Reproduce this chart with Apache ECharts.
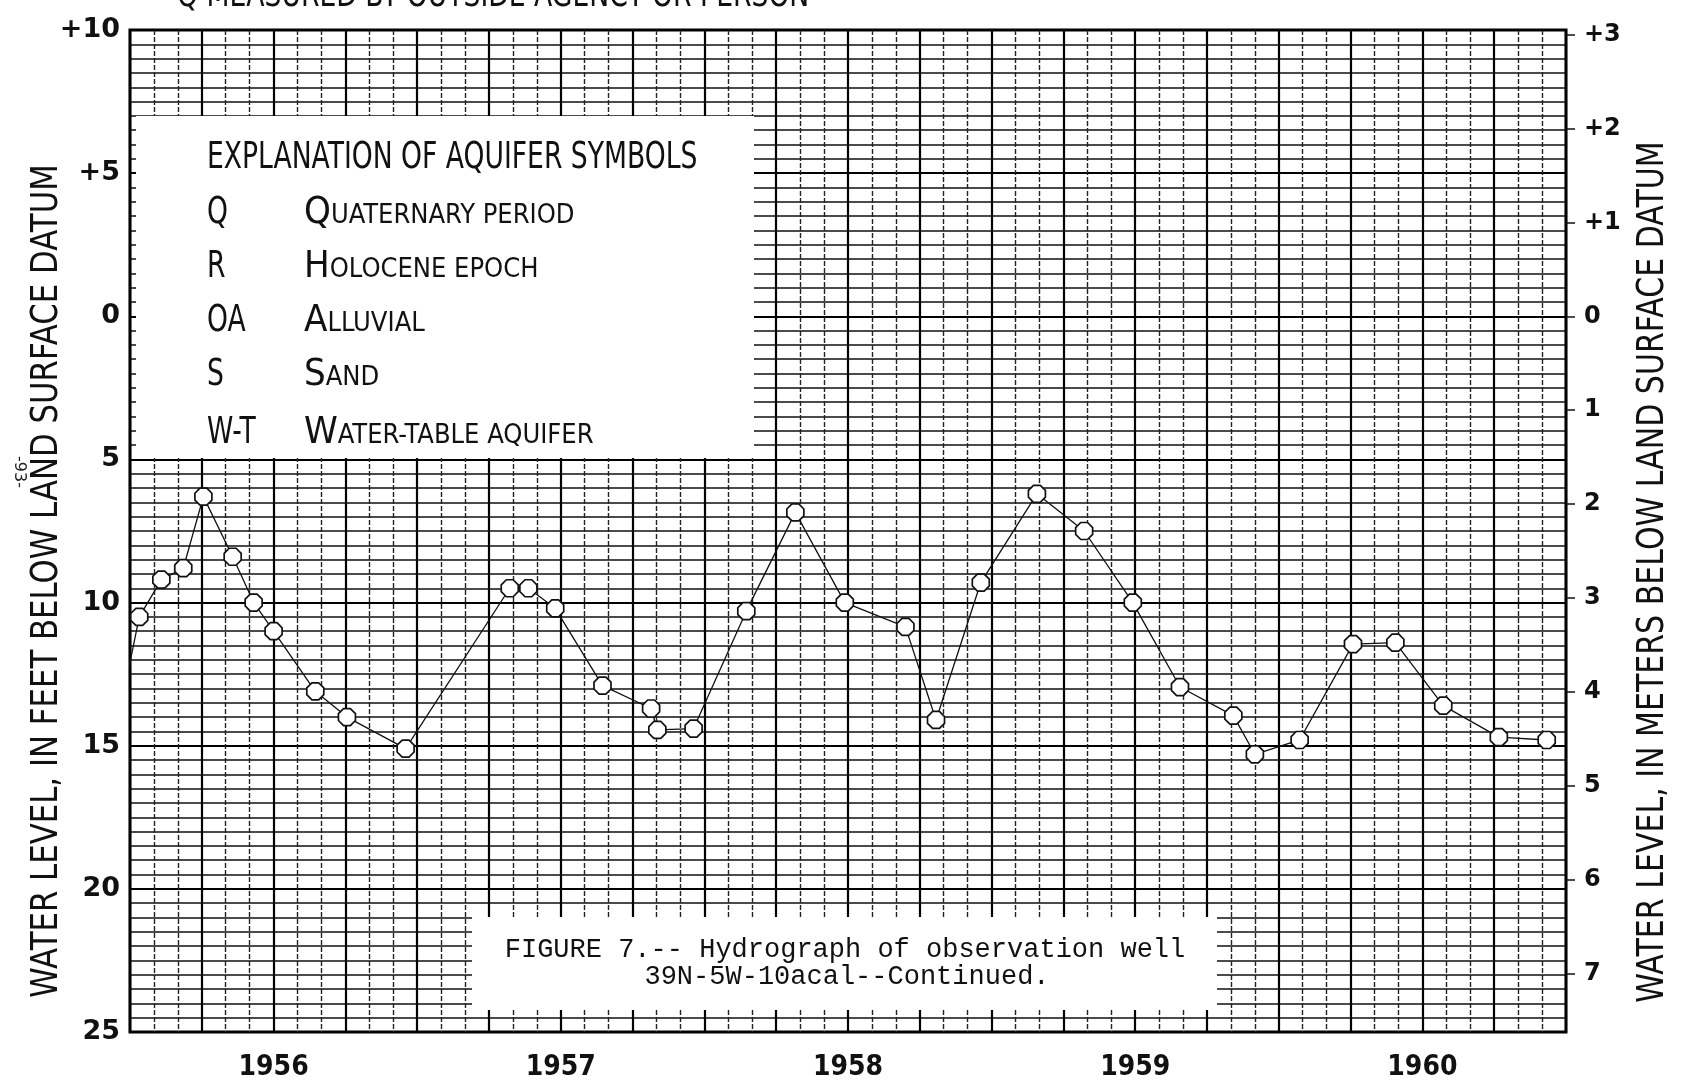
<!DOCTYPE html>
<html><head><meta charset="utf-8">
<script src="https://cdn.jsdelivr.net/npm/echarts@6/dist/echarts.min.js"></script>
<style>html,body{margin:0;padding:0;background:#fff}#c{width:1681px;height:1085px}</style>
</head><body><div id="c"></div>
<script>
// Measurement dates and water levels (feet below land surface datum)
const measureDates = [
  '1955-12-16',
  '1956-01-13','1956-02-10','1956-03-08','1956-04-03','1956-05-10','1956-06-06','1956-07-01',
  '1956-08-24','1956-10-03','1956-12-17',
  '1957-04-27','1957-05-21','1957-06-24','1957-08-24','1957-10-25','1957-11-02','1957-12-18',
  '1958-02-22','1958-04-25','1958-06-27','1958-09-13','1958-10-22','1958-12-18',
  '1959-02-26','1959-04-27','1959-06-28','1959-08-28','1959-11-04','1959-12-01',
  '1960-01-28','1960-04-04','1960-05-28','1960-07-28','1960-10-07','1960-12-07'
];
const waterLevelFt = [
  14.2,
  10.5, 9.2, 8.8, 6.3, 8.4, 10.0, 11.0,
  13.1, 14.0, 15.1,
  9.5, 9.5, 10.2, 12.9, 13.7, 14.45, 14.4,
  10.3, 6.85, 10.0, 10.85, 14.1, 9.3,
  6.2, 7.5, 10.0, 12.95, 13.95, 15.3,
  14.8, 11.45, 11.4, 13.6, 14.7, 14.8
];
const yearLabels = ['1956','1957','1958','1959','1960'];
const feetTickLabels = ['+10','+5','0','5','10','15','20','25'];
const meterTickValues = [-3,-2,-1,0,1,2,3,4,5,6,7];
const meterTickLabels = ['+3','+2','+1','0','1','2','3','4','5','6','7'];
const legendCodes = ['Q','R','OA','S','W-T'];
const legendNames = ['QUATERNARY PERIOD','HOLOCENE EPOCH','ALLUVIAL','SAND','WATER-TABLE AQUIFER'];

const FT_PER_M = 3.2808;
const FT_MIN = -10, FT_MAX = 25;
const YEAR0 = 1956, YEAR1 = 1961;

function toYear(s){
  const [y,m,d] = s.split('-').map(Number);
  const dim = new Date(y, m, 0).getDate();
  return y + (m-1)/12 + (d-1)/(dim*12);
}
const seriesData = measureDates.map((d,i)=>[toYear(d), waterLevelFt[i]]);
const yearTickValues = yearLabels.map(l => Number(l) + 0.5);

const chart = echarts.init(document.getElementById('c'), null, {renderer:'canvas'});
const octagon = 'path://M6,0 L14,0 L20,6 L20,14 L14,20 L6,20 L0,14 L0,6 Z';
const sansFont = '"DejaVu Sans", sans-serif';
const condFont = '"DejaVu Sans Condensed", "DejaVu Sans", sans-serif';

const legendEls = [];
const rowY = [213, 267, 321, 375, 433];
legendCodes.forEach((c,i)=>{
  legendEls.push({type:'text', z:11, x:207, y:rowY[i], scaleX:0.70,
    style:{text:c, fontSize:38, fontFamily:sansFont, fill:'#111', verticalAlign:'middle'}});
  const n = legendNames[i];
  legendEls.push({type:'text', z:11, x:304, y:rowY[i],
    style:{text:'{a|'+n[0]+'}{b|'+n.slice(1)+'}', verticalAlign:'middle', fill:'#111',
      rich:{a:{fontSize:38, fontFamily:condFont, fill:'#111', verticalAlign:'bottom'},
            b:{fontSize:27, fontFamily:condFont, fill:'#111', verticalAlign:'bottom', padding:[0,0,3,0]}}}});
});

chart.setOption({
  backgroundColor:'#fff',
  animation:false,
  grid:{left:130, right:115, top:30, bottom:53, show:true, borderColor:'#000', borderWidth:3, backgroundColor:'#fff'},
  xAxis:{
    type:'value', min:YEAR0, max:YEAR1, interval:0.25,
    axisLine:{show:false}, axisTick:{show:false},
    axisLabel:{customValues:yearTickValues, formatter:v=>yearLabels[Math.round(v-0.5-YEAR0)],
      margin:22, fontSize:28, fontWeight:'bold', color:'#111', fontFamily:condFont},
    splitLine:{show:true, lineStyle:{color:'#000', width:2.2}},
    minorTick:{show:false, splitNumber:3},
    minorSplitLine:{show:true, lineStyle:{color:'#222', width:1.4, type:[5,2]}}
  },
  yAxis:[{
    type:'value', min:FT_MIN, max:FT_MAX, interval:5, inverse:true, position:'left',
    axisLine:{show:false}, axisTick:{show:false},
    axisLabel:{formatter:v=>feetTickLabels[Math.round((v-FT_MIN)/5)], margin:10, fontSize:27,
      fontWeight:'bold', color:'#111', fontFamily:sansFont},
    splitLine:{show:true, lineStyle:{color:'#000', width:2.2}},
    minorTick:{show:false, splitNumber:10},
    minorSplitLine:{show:true, lineStyle:{color:'#111', width:1.5}}
  },{
    type:'value', min:FT_MIN/FT_PER_M, max:FT_MAX/FT_PER_M, inverse:true, position:'right',
    axisLine:{show:false},
    axisTick:{show:true, customValues:meterTickValues, length:9, inside:false, lineStyle:{color:'#111', width:1.5}},
    axisLabel:{customValues:meterTickValues, formatter:v=>meterTickLabels[meterTickValues.indexOf(Math.round(v))],
      margin:18, fontSize:24, fontWeight:'bold', color:'#111', fontFamily:sansFont},
    splitLine:{show:false}
  }],
  series:[{
    type:'line', data:seriesData, xAxisIndex:0, yAxisIndex:0, clip:true,
    symbol:octagon, symbolSize:17, showAllSymbol:true,
    lineStyle:{color:'#111', width:1.3},
    itemStyle:{color:'#fff', borderColor:'#111', borderWidth:1.7},
    z:5
  }],
  graphic:[
    {type:'rect', z:10, shape:{x:136, y:116, width:618, height:342}, style:{fill:'#fff'}},
    {type:'text', z:11, x:207, y:158, scaleX:0.70,
      style:{text:'EXPLANATION OF AQUIFER SYMBOLS', fontSize:38, fontFamily:sansFont, fill:'#111', verticalAlign:'middle'}},
    ...legendEls,
    {type:'rect', z:10, shape:{x:472, y:917, width:745, height:93}, style:{fill:'#fff'}},
    {type:'text', z:11, x:845, y:950,
      style:{text:'FIGURE 7.-- Hydrograph of observation well', fontSize:27, fontFamily:'"Liberation Mono", monospace', fill:'#111', align:'center', verticalAlign:'middle'}},
    {type:'text', z:11, x:847, y:977,
      style:{text:'39N-5W-10acal--Continued.', fontSize:27, fontFamily:'"Liberation Mono", monospace', fill:'#111', align:'center', verticalAlign:'middle'}},
    {type:'text', z:11, x:177, y:-3, scaleX:0.74,
      style:{text:'Q MEASURED BY OUTSIDE AGENCY OR PERSON', fontSize:36, fontFamily:sansFont, fill:'#111', verticalAlign:'middle'}},
    {type:'text', z:11, x:47, y:581, rotation:Math.PI/2, scaleX:0.81,
      style:{text:'WATER LEVEL, IN FEET BELOW LAND SURFACE DATUM', fontSize:38, fontFamily:sansFont, fill:'#111', align:'center', verticalAlign:'middle'}},
    {type:'text', z:11, x:1653, y:572, rotation:Math.PI/2, scaleX:0.79,
      style:{text:'WATER LEVEL, IN METERS BELOW LAND SURFACE DATUM', fontSize:38, fontFamily:sansFont, fill:'#111', align:'center', verticalAlign:'middle'}},
    {type:'text', z:11, x:19, y:472, rotation:-Math.PI/2,
      style:{text:'-93-', fontSize:16, fontFamily:sansFont, fill:'#222', align:'center', verticalAlign:'middle'}}
  ]
});
</script>
</body></html>
